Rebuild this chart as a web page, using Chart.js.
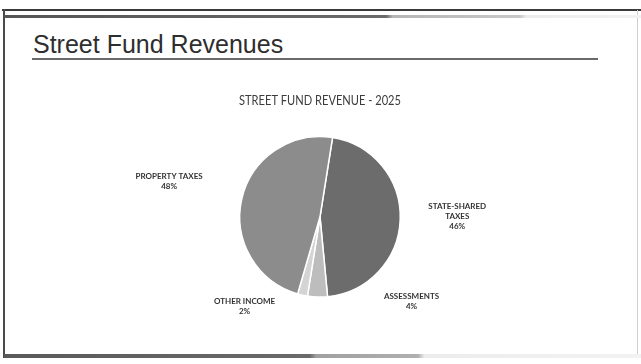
<!DOCTYPE html>
<html lang="en">
<head>
    <meta charset="UTF-8">
    <title>Street Fund Revenues</title>
    <style>
        body { margin: 0; background: #fff; }
        #slide { position: relative; width: 641px; height: 364px; overflow: hidden; background: #fff; }
        .frame-top { position: absolute; left: 2px; top: 9px; width: 639px; height: 2px; background: #3a3a3a; }
        .frame-left { position: absolute; left: 3px; top: 9px; width: 2px; height: 349px; background: #4a4a4a; }
        .frame-right { position: absolute; left: 637px; top: 10px; width: 1px; height: 346px; background: #cfcfcf; }
        .bar-top { position: absolute; left: 4px; top: 15px; width: 637px; height: 3px;
            background: linear-gradient(to right, #555 0%, #6a6a6a 60%, #b5b5b5 61%, #c8c8c8 81%, #ececec 82%, #f2f2f2 100%); }
        .bar-bottom { position: absolute; left: 4px; top: 354px; width: 637px; height: 4px;
            background: linear-gradient(to right, #5a5a5a 0%, #6a6a6a 48%, #a0a0a0 49%, #b0b0b0 65%, #ececec 66%, #f2f2f2 100%); }
        h1 { position: absolute; left: 33px; top: 30px; margin: 0; font: 25px "Liberation Sans", Arial, sans-serif; color: #2e2e2e; font-weight: normal; }
        .rule { position: absolute; left: 32px; top: 58px; width: 566px; height: 2px; background: #6a6a6a; }
        #pieChart { position: absolute; left: 0; top: 0; }
    </style>
</head>
<body>
<div id="slide">
    <div class="frame-top"></div>
    <div class="frame-left"></div>
    <div class="frame-right"></div>
    <div class="bar-top"></div>
    <div class="bar-bottom"></div>
    <h1>Street Fund Revenues</h1>
    <div class="rule"></div>
    <canvas id="pieChart" width="641" height="364"></canvas>
</div>
<script src="https://cdn.jsdelivr.net/npm/chart.js"></script>
<script>
    // Revenue sources and their share of the street fund (percent)
    const categories = ['STATE-SHARED TAXES', 'ASSESSMENTS', 'OTHER INCOME', 'PROPERTY TAXES'];
    const shares = [46, 4, 2, 48];
    const sliceColors = ['#6c6c6c', '#bdbdbd', '#d4d4d4', '#8c8c8c'];

    // label lines (wrapped) and where each label sits, in pie radii from the centre
    const labelLines = [['STATE-SHARED', 'TAXES'], ['ASSESSMENTS'], ['OTHER INCOME'], ['PROPERTY TAXES']];
    const labelOffsets = [[1.71, 0.0], [1.14, 1.06], [-0.94, 1.12], [-1.88, -0.44]];

    // draws the category name and percentage beside each slice
    const outsideLabels = {
        id: 'outsideLabels',
        afterDatasetsDraw(chart) {
            const ctx = chart.ctx;
            const meta = chart.getDatasetMeta(0);
            ctx.save();
            ctx.fillStyle = '#333333';
            ctx.font = 'bold 8px Lato, sans-serif';
            ctx.textAlign = 'center';
            ctx.textBaseline = 'middle';
            meta.data.forEach((arc, i) => {
                const r = arc.outerRadius;
                const x = arc.x + labelOffsets[i][0] * r;
                const y = arc.y + labelOffsets[i][1] * r;
                const lines = labelLines[i].concat([shares[i] + '%']);
                const top = y - (lines.length - 1) * 10 / 2;
                lines.forEach((line, j) => ctx.fillText(line, x, top + j * 10));
            });
            ctx.restore();
        }
    };

    const chartContext = document.getElementById('pieChart').getContext('2d');
    const pieChart = new Chart(chartContext, {
        type: 'pie',
        data: {
            labels: categories,
            datasets: [{
                data: shares,
                backgroundColor: sliceColors,
                borderColor: '#ffffff',
                borderWidth: 1.5,
            }],
        },
        options: {
            responsive: false,
            animation: false,
            rotation: 9,
            layout: { padding: { top: 93, bottom: 66, left: 239, right: 240 } },
            plugins: {
                legend: { display: false },
                tooltip: { enabled: false },
                title: {
                    display: true,
                    text: 'STREET FUND REVENUE - 2025',
                    color: '#3c3c3c',
                    font: { family: 'Lato', size: 13, weight: 'normal' },
                    padding: { top: 0, bottom: 27 },
                },
            },
        },
        plugins: [outsideLabels],
    });
</script>
</body>
</html>
